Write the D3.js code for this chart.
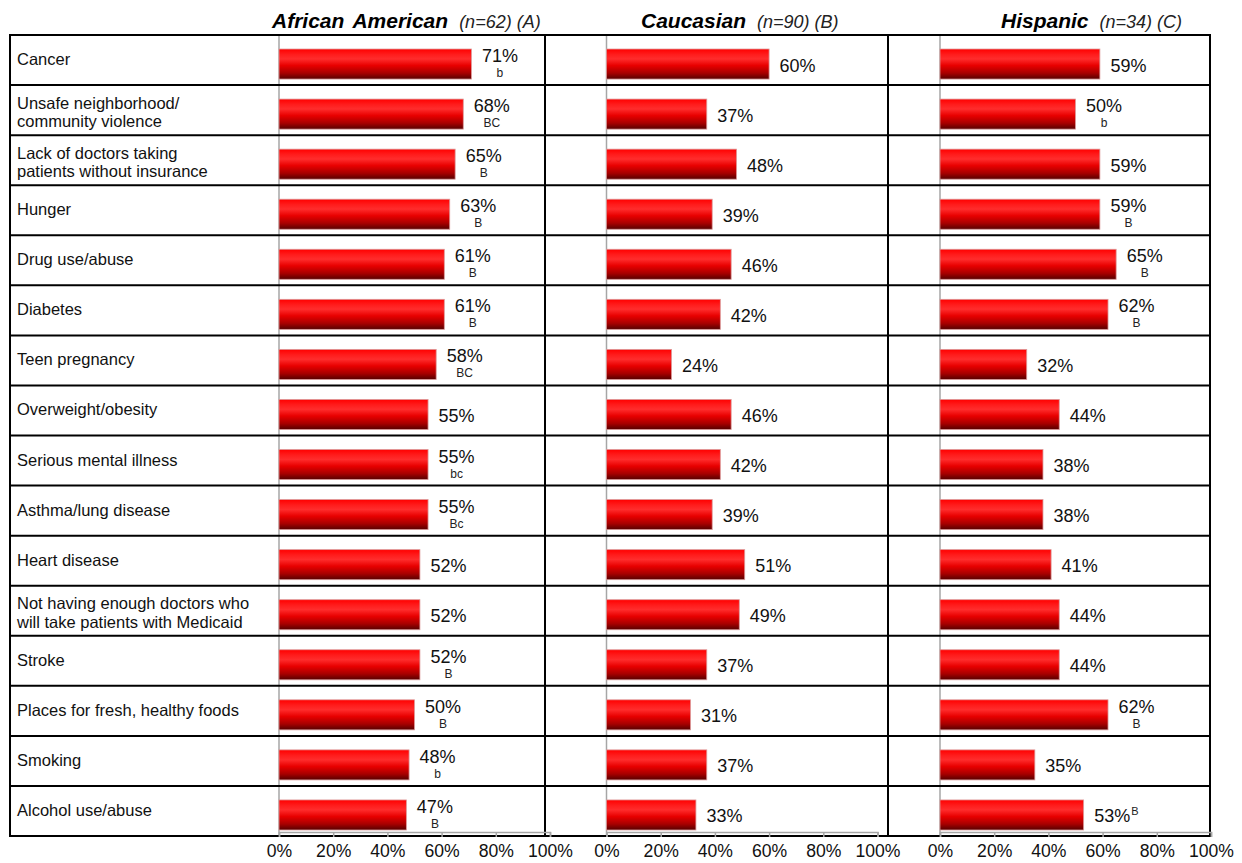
<!DOCTYPE html>
<html>
<head>
<meta charset="utf-8">
<script src="https://cdn.jsdelivr.net/npm/d3@7"></script>
<style>
  html, body { margin: 0; padding: 0; background: #fff; }
  svg { display: block; font-family: "Liberation Sans", Arial, sans-serif; }
</style>
</head>
<body>
<svg id="chart" width="1242" height="863"></svg>
<script>
// Health concerns by group (percent of respondents)
const categories = [
  ["Cancer"],
  ["Unsafe neighborhood/", "community violence"],
  ["Lack of doctors taking", "patients without insurance"],
  ["Hunger"],
  ["Drug use/abuse"],
  ["Diabetes"],
  ["Teen pregnancy"],
  ["Overweight/obesity"],
  ["Serious mental illness"],
  ["Asthma/lung disease"],
  ["Heart disease"],
  ["Not having enough doctors who", "will take patients with Medicaid"],
  ["Stroke"],
  ["Places for fresh, healthy foods"],
  ["Smoking"],
  ["Alcohol use/abuse"]
];

const groupTitles = ["African American", "Caucasian", "Hispanic"];
const groupNotes = ["(n=62) (A)", "(n=90) (B)", "(n=34) (C)"];

const africanAmerican = [71, 68, 65, 63, 61, 61, 58, 55, 55, 55, 52, 52, 52, 50, 48, 47];
const caucasian       = [60, 37, 48, 39, 46, 42, 24, 46, 42, 39, 51, 49, 37, 31, 37, 33];
const hispanic        = [59, 50, 59, 59, 65, 62, 32, 44, 38, 38, 41, 44, 44, 62, 35, 53];

// significance letters shown with each value
const sigAfricanAmerican = ["b", "BC", "B", "B", "B", "B", "BC", "", "bc", "Bc", "", "", "B", "B", "b", "B"];
const sigCaucasian       = ["", "", "", "", "", "", "", "", "", "", "", "", "", "", "", ""];
const sigHispanic        = ["", "b", "", "B", "B", "B", "", "", "", "", "", "", "", "B", "", "B"];
// rows where the letter is set as a superscript beside the value
const superscriptHispanic = [15];

const tickValues = [0, 20, 40, 60, 80, 100];

const svg = d3.select("#chart");

// bar fill: glossy cylinder-like red
const defs = svg.append("defs");
const grad = defs.append("linearGradient")
  .attr("id", "barGrad").attr("x1", 0).attr("y1", 0).attr("x2", 0).attr("y2", 1);
[[0, "#ff0000"], [0.18, "#ff1c1c"], [0.33, "#ff2c2c"], [0.55, "#e80000"], [0.8, "#a80000"], [1, "#560000"]]
  .forEach(([o, c]) => grad.append("stop").attr("offset", o).attr("stop-color", c));

const tableLeft = 10, tableRight = 1210, tableTop = 35, tableBottom = 836;

const y = d3.scaleBand()
  .domain(d3.range(categories.length))
  .range([tableTop, tableBottom])
  .padding(0);
const bh = y.bandwidth();

const panels = [
  { values: africanAmerican, sig: sigAfricanAmerican, sup: [], x: d3.scaleLinear([0, 100], [279, 550]), titleX: 272 },
  { values: caucasian, sig: sigCaucasian, sup: [], x: d3.scaleLinear([0, 100], [606.5, 877.5]), titleX: 641 },
  { values: hispanic, sig: sigHispanic, sup: superscriptHispanic, x: d3.scaleLinear([0, 100], [940, 1211]), titleX: 1001 }
];

// panel value axes: vertical gray zero line
panels.forEach(p => {
  svg.append("line")
    .attr("x1", p.x(0)).attr("x2", p.x(0))
    .attr("y1", tableTop).attr("y2", tableBottom)
    .attr("stroke", "#a6a6a6").attr("stroke-width", 1.5);
});

// bars and value labels
panels.forEach(p => {
  const g = svg.append("g");
  g.selectAll("rect")
    .data(p.values)
    .join("rect")
    .attr("x", p.x(0))
    .attr("y", (d, i) => y(i) + bh * 0.28)
    .attr("width", d => p.x(d) - p.x(0))
    .attr("height", bh * 0.6)
    .attr("fill", "url(#barGrad)")
    .attr("stroke", "#dc9a9a")
    .attr("stroke-width", 0.8);

  p.values.forEach((v, i) => {
    const letter = p.sig[i];
    const tx = p.x(v) + 10.5;
    const top = y(i);
    const below = letter && !p.sup.includes(i);
    const t = g.append("text")
      .attr("x", tx)
      .attr("y", below ? top + 27 : top + 36.5)
      .attr("font-size", 18)
      .attr("fill", "#111")
      .text(v + "%");
    if (letter) {
      const w = t.node().getComputedTextLength();
      if (below) {
        g.append("text")
          .attr("x", tx + w / 2)
          .attr("y", top + 42)
          .attr("text-anchor", "middle")
          .attr("font-size", 12)
          .attr("fill", "#222")
          .text(letter);
      } else {
        g.append("text")
          .attr("x", tx + w + 1)
          .attr("y", top + 29)
          .attr("font-size", 11)
          .attr("fill", "#222")
          .text(letter);
      }
    }
  });
});

// row labels
categories.forEach((lines, i) => {
  const top = y(i);
  const base = lines.length === 1 ? [30] : [23.5, 42];
  lines.forEach((ln, k) => {
    svg.append("text")
      .attr("x", 17)
      .attr("y", top + base[k])
      .attr("font-size", 16.5)
      .attr("fill", "#111")
      .text(ln);
  });
});

// table grid
const grid = svg.append("g").attr("stroke", "#000").attr("stroke-width", 2).attr("fill", "none");
grid.selectAll("line.h")
  .data(d3.range(categories.length + 1))
  .join("line")
  .attr("x1", tableLeft).attr("x2", tableRight)
  .attr("y1", i => i < categories.length ? y(i) : tableBottom)
  .attr("y2", i => i < categories.length ? y(i) : tableBottom);
[tableLeft, 545, 888, tableRight].forEach(xv => {
  grid.append("line").attr("x1", xv).attr("x2", xv).attr("y1", tableTop - 1).attr("y2", tableBottom + 1);
});

// bottom percentage axes
panels.forEach(p => {
  const ax = svg.append("g")
    .attr("transform", `translate(0,${tableBottom - 4})`)
    .call(d3.axisBottom(p.x).tickValues(tickValues).tickFormat(d => d + "%").tickSize(5).tickPadding(8));
  ax.select(".domain").attr("stroke", "#a6a6a6").attr("stroke-width", 1.5);
  ax.selectAll(".tick line").attr("stroke", "#a6a6a6").attr("stroke-width", 1.5);
  ax.selectAll(".tick text")
    .attr("font-size", 17.6)
    .attr("font-family", "Liberation Sans, Arial, sans-serif")
    .attr("fill", "#111");
});

// group headers
panels.forEach((p, i) => {
  const t = svg.append("text")
    .attr("x", p.titleX)
    .attr("y", 27.5)
    .attr("fill", "#000");
  t.append("tspan")
    .attr("font-size", 21)
    .attr("font-weight", "bold")
    .attr("font-style", "italic")
    .attr("word-spacing", 3)
    .text(groupTitles[i]);
  t.append("tspan")
    .attr("dx", 11)
    .attr("font-size", 18)
    .attr("font-style", "italic")
    .attr("fill", "#222")
    .text(groupNotes[i]);
});
</script>
</body>
</html>
